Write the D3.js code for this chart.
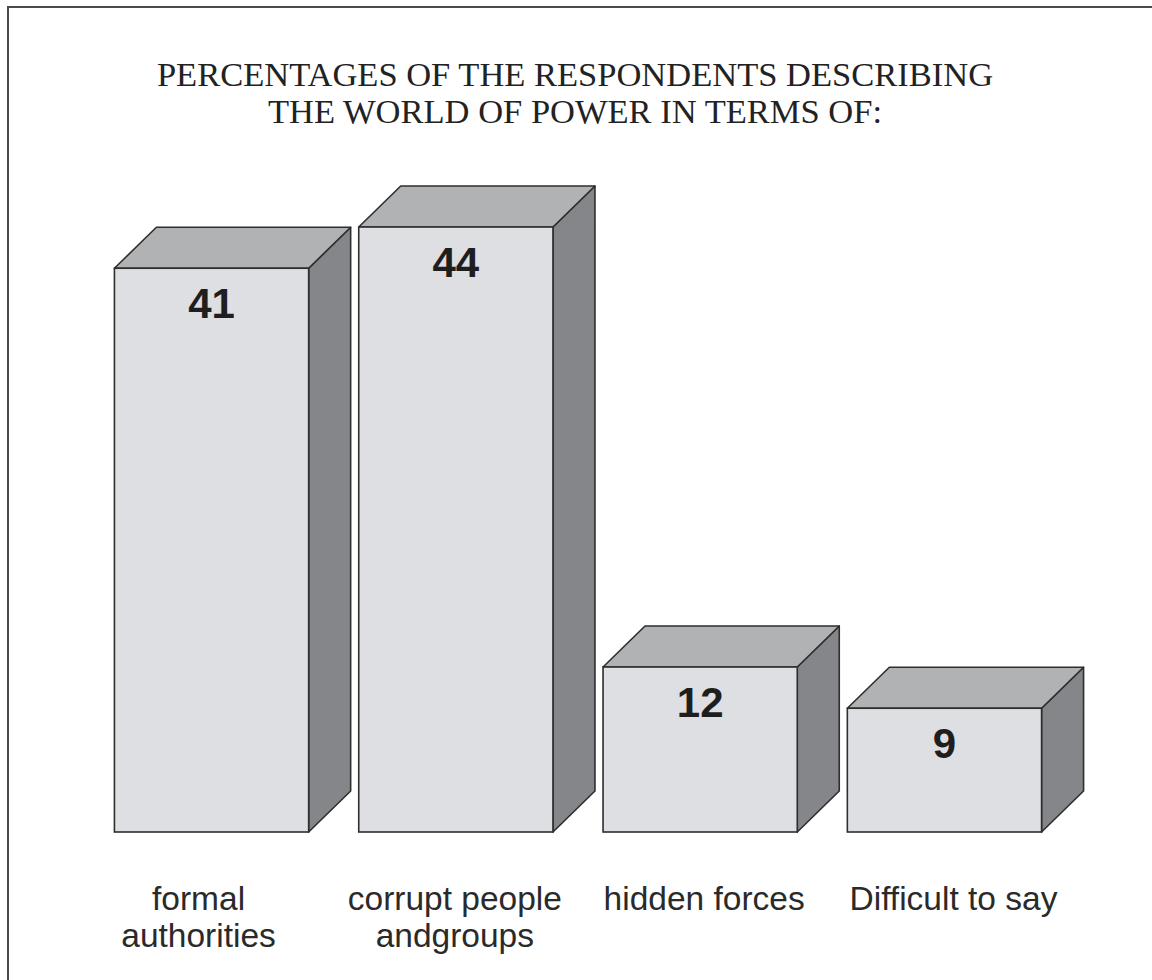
<!DOCTYPE html>
<html>
<head>
<meta charset="utf-8">
<script src="https://cdn.jsdelivr.net/npm/d3@7"></script>
<style>
  html, body { margin: 0; padding: 0; background: #fff; }
  svg { display: block; }
</style>
</head>
<body>
<svg id="chart" width="1152" height="980"></svg>
<script>
const titleLines = ["PERCENTAGES OF THE RESPONDENTS DESCRIBING", "THE WORLD OF POWER IN TERMS OF:"];
const categories = ["formal authorities", "corrupt people andgroups", "hidden forces", "Difficult to say"];
const categoryLines = [["formal", "authorities"], ["corrupt people", "andgroups"], ["hidden forces"], ["Difficult to say"]];
const values = [41, 44, 12, 9];

const svg = d3.select("#chart");
const W = 1152, H = 980;
const depthX = 42, depthY = 41;
const labelShift = [-13, -1, 4, 9];

// frame
svg.append("rect")
  .attr("x", 8).attr("y", 7)
  .attr("width", W + 20).attr("height", H + 20)
  .attr("fill", "#fff").attr("stroke", "#4a4a4a").attr("stroke-width", 2);

// title
svg.append("text")
  .attr("text-anchor", "middle")
  .attr("font-family", "'Liberation Serif', 'Times New Roman', serif")
  .attr("font-size", 34.5)
  .attr("fill", "#222")
  .selectAll("tspan").data(titleLines).join("tspan")
  .attr("x", 575)
  .attr("y", (d, i) => 86 + i * 37)
  .text(d => d);

const x = d3.scaleBand().domain(categories).range([90, 1066]).paddingInner(0.205).paddingOuter(0.1);
const y = d3.scaleLinear().domain([0, 50]).range([832, 832 - 50 * 13.75]);

const g = svg.append("g");
const bars = g.selectAll("g.bar").data(categories.map((c, i) => ({ c, v: values[i], lines: categoryLines[i], s: labelShift[i] })))
  .join("g").attr("class", "bar");

const stroke = "#2e2e2e", sw = 1.6;

// side face
bars.append("path")
  .attr("d", d => {
    const x1 = x(d.c) + x.bandwidth(), yt = y(d.v), yb = y(0);
    return `M${x1},${yt} L${x1 + depthX},${yt - depthY} L${x1 + depthX},${yb - depthY} L${x1},${yb} Z`;
  })
  .attr("fill", "#858689").attr("stroke", stroke).attr("stroke-width", sw).attr("stroke-linejoin", "round");

// top face
bars.append("path")
  .attr("d", d => {
    const x0 = x(d.c), x1 = x0 + x.bandwidth(), yt = y(d.v);
    return `M${x0},${yt} L${x0 + depthX},${yt - depthY} L${x1 + depthX},${yt - depthY} L${x1},${yt} Z`;
  })
  .attr("fill", "#b1b2b4").attr("stroke", stroke).attr("stroke-width", sw).attr("stroke-linejoin", "round");

// front face
bars.append("rect")
  .attr("x", d => x(d.c))
  .attr("y", d => y(d.v))
  .attr("width", x.bandwidth())
  .attr("height", d => y(0) - y(d.v))
  .attr("fill", "#dedfe2").attr("stroke", stroke).attr("stroke-width", sw);

// value labels
bars.append("text")
  .attr("x", d => x(d.c) + x.bandwidth() / 2)
  .attr("y", d => y(d.v) + 50)
  .attr("text-anchor", "middle")
  .attr("font-family", "'Liberation Sans', Arial, sans-serif")
  .attr("font-weight", "bold")
  .attr("font-size", 42)
  .attr("fill", "#1e1e1e")
  .text(d => d.v);

// category labels
bars.append("text")
  .attr("text-anchor", "middle")
  .attr("font-family", "'Liberation Sans', Arial, sans-serif")
  .attr("font-size", 33.5)
  .attr("fill", "#2a2a2a")
  .selectAll("tspan").data(d => d.lines.map(l => ({ l, c: d.c, s: d.s }))).join("tspan")
  .attr("x", d => x(d.c) + x.bandwidth() / 2 + d.s)
  .attr("y", (d, i) => 910 + i * 37)
  .text(d => d.l);
</script>
</body>
</html>
